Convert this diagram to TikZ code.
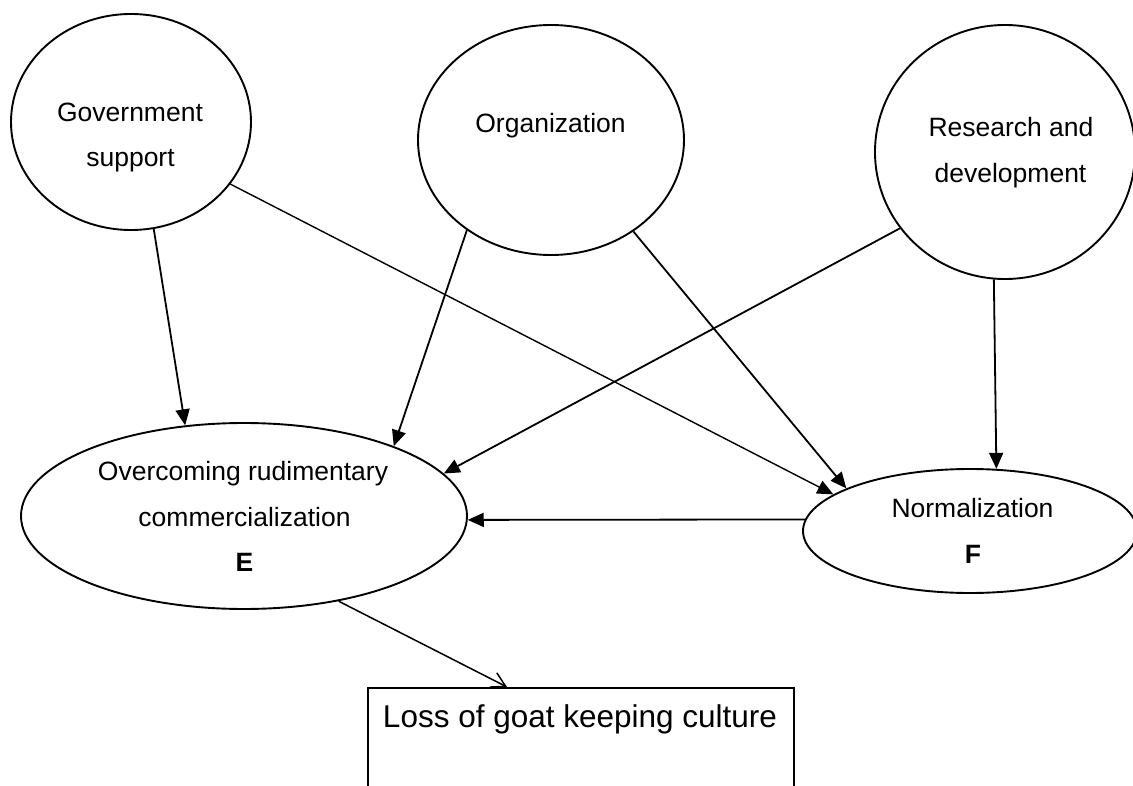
\documentclass[tikz,border=0pt]{standalone}
\usepackage{fontspec}
\setmainfont{Liberation Sans}
\usetikzlibrary{arrows.meta,shapes.geometric}
\begin{document}
\begin{tikzpicture}[x=1pt,y=-1pt,
  factor/.style={draw,ellipse,line width=1.9pt,inner sep=0pt},
  lbl/.style={anchor=base,inner sep=0pt,font=\fontsize{26.5}{32}\selectfont},
  biglbl/.style={anchor=base,inner sep=0pt,font=\fontsize{31.5}{38}\selectfont},
  link/.style={line width=1.8pt,-{Triangle[length=16pt,width=14pt]}},
  thinlink/.style={link,line width=1.4pt},
  outlink/.style={line width=1.5pt,-{Straight Barb[length=14pt,width=16pt]}}]
\useasboundingbox (0,0) rectangle (1133,786);
\clip (0,0) rectangle (1133,786);

% driving factors
\node[factor,minimum width=240pt,minimum height=216pt] (gov) at (131,122) {};
\node[factor,minimum width=266pt,minimum height=230pt] (org) at (551,140) {};
\node[factor,minimum width=260pt,minimum height=254pt] (res) at (1005,152) {};

% intermediate outcomes
\node[factor,minimum width=446pt,minimum height=186pt] (E) at (244,516) {};
\node[factor,minimum width=334pt,minimum height=124pt] (F) at (970,531) {};

% final outcome box
\node[draw,line width=1.9pt,inner sep=0pt,anchor=north west,
      minimum width=426pt,minimum height=160pt] (box) at (367,687) {};

% labels
\node[lbl] (govA) at (130,122) {Government};
\node[lbl] (govB) at (130.5,167) {support};
\node[lbl] (orgA) at (550.5,133) {Organization};
\node[lbl] (resA) at (1011,137) {Research and};
\node[lbl] (resB) at (1010.5,183) {development};
\node[lbl] (eA) at (243,480) {Overcoming rudimentary};
\node[lbl] (eB) at (244.5,526) {commercialization};
\node[lbl,font=\fontsize{26.5}{32}\selectfont\bfseries] (eC) at (244.5,571) {E};
\node[lbl] (fA) at (972.5,517) {Normalization};
\node[lbl,font=\fontsize{26.5}{32}\selectfont\bfseries] (fB) at (973,563) {F};
\node[biglbl] (boxA) at (580,727) {Loss of goat keeping culture};

% causal links
\draw[link] (gov.282.5) -- (E.123.7);
\draw[thinlink] (gov.328) -- (F.165.3);
\draw[link] (org.227) -- (E.25.2);
\draw[link] (org.312.7) -- (F.161.4);
\draw[link] (res.216.6) -- (E.12.9);
\draw[link] (res.265.5) -- (F.67.7);
\draw[link] (F.176.3) -- (E.359.2);
\draw[outlink] (E.318.9) -- ([xshift=140pt]box.north west);
\end{tikzpicture}
\end{document}
